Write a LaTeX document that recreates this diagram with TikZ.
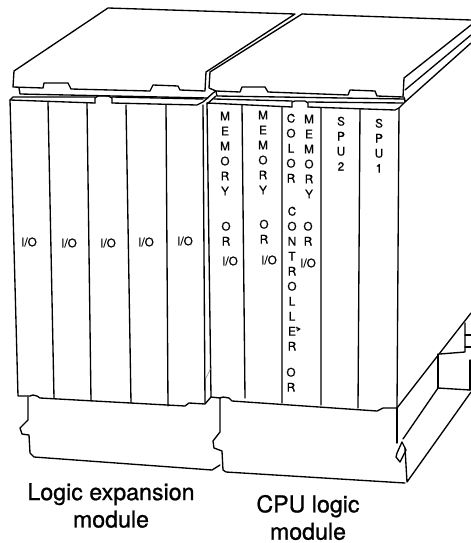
\documentclass[tikz,border=0pt]{standalone}
\usepackage{fontspec}
\setmainfont{TeX Gyre Heros}
\newfontfamily\labelfont[FakeBold=0.6]{TeX Gyre Heros}
\newfontfamily\capfont[FakeBold=0.9]{TeX Gyre Heros}
\tikzset{
  ink/.style={line width=1pt,line join=round,line cap=round,black},
  thinink/.style={line width=0.35pt,gray},
  stack/.style={anchor=north,inner sep=0pt,align=center,font=\labelfont\fontsize{8.8}{11.25}\selectfont},
  io/.style={inner sep=0pt,font=\labelfont\fontsize{8.8}{10}\selectfont},
  caption/.style={inner sep=0pt,align=center,font=\capfont\fontsize{17.4}{20.5}\selectfont}
}
\begin{document}
\begin{tikzpicture}[x=0.75pt,y=-0.75pt]
\useasboundingbox (0,0) rectangle (471,543);
\fill[white] (0,0) rectangle (471,543);
% left lid
\draw[ink] (206,72) -- (295,14) -- (108,8) -- (14,71) -- (13,87) -- (43,88) -- (44,83) -- (68,83) -- (71,89) -- (150,91) -- (153,85) -- (178,86) -- (180,90) -- (205,91) -- cycle;
% left hinge strip
\draw[ink] (19,88) -- (20,94) -- (208,98);
\draw[ink] (10,100) -- (13,97) -- (95,97) (112,97) -- (203,99);
\draw[ink] (95,103) -- (95,98) -- (98,96) -- (108,96) -- (112,98) -- (112,103);
% left panel
\draw[ink] (10,100) -- (95,103) (112,103) -- (197,105) -- (203,102) -- (213,93) -- (216,91);
\draw[ink] (207,104) -- (216,96);
\draw[ink] (10,100) -- (18,396) -- (30,396) -- (33,395) -- (37,396) -- (40,398) -- (185,406) -- (189,403) -- (205,404) -- (211,397) -- (220,398);
\draw[ink] (203,105) -- (205,403);
\draw[ink] (207,103) -- (211,397);
\draw[thinink] (206,378) -- (211,368);
% left dividers
\draw[ink] (48,102) -- (54,398) (87,103) -- (91,401) (126,105) -- (131,403) (166,105) -- (168,406);
% left lower block
\draw[ink] (28,397) -- (28,420) -- (20,428) -- (22,434) -- (29,435) -- (30,453) -- (34,457) -- (212,470) -- (220,465);
\draw[ink] (220,398) -- (220,432) -- (213,441) -- (214,448) -- (222,451) -- (223,470) -- (226,472) -- (405,483);
% right lid
\draw[ink] (302,14) -- (471,20);
\draw[ink] (302,14) -- (210,72) -- (209,88) -- (216,91) -- (240,92) -- (242,87) -- (265,87) -- (268,92) -- (348,95) -- (350,90) -- (375,91) -- (377,96) -- (403,97) -- (404,78) -- (471,25);
% right hinge strip
\draw[ink] (216,91) -- (217,96) -- (405,99);
\draw[ink] (405,90) -- (471,35);
\draw[ink] (404,97) -- (405,102) -- (471,43);
\draw[ink] (214,99) -- (292,101) (308,102) -- (403,103);
\draw[ink] (292,107) -- (292,102) -- (295,101) -- (305,101) -- (308,103) -- (308,107);
% right panel
\draw[ink] (207,103) -- (292,107) (308,107) -- (395,110) -- (399,108) -- (405,102);
\draw[ink] (399,108) -- (397,408);
\draw[ink] (220,398) -- (223,397) -- (229,398) -- (232,401) -- (377,411) -- (383,408) -- (397,408);
% right dividers
\draw[ink] (242,105) -- (245,398) (282,107) -- (282,403) (321,108) -- (321,405) (360,109) -- (358,408);
% right side
\draw[ink] (397,408) -- (471,313);
\draw[ink] (397,408) -- (397,443);
\draw[ink] (403,439) -- (438,388) -- (470,390);
\draw[ink] (438,354) -- (438,388);
\draw[ink] (440,354) -- (465,352) -- (465,323);
\draw[ink] (465,335) -- (471,335) (465,347) -- (471,347);
\draw[ink] (470,360) -- (470,390);
\draw[ink] (405,448) -- (407,482) -- (471,392);
\draw[ink] (397,453) -- (402,442) -- (406,450) -- (400,462) -- (396,457) -- cycle;
\draw[line width=0.6pt] (296,327) -- (300,329) -- (297,331) (296,329) -- (299,329);
% texts
\node[io] (t1) at (29,242) {I/O};
\node[io] (t2) at (69,243) {I/O};
\node[io] (t3) at (108,243) {I/O};
\node[io] (t4) at (146,242) {I/O};
\node[io] (t5) at (185,241) {I/O};
\node[stack] (m1) at (225,111.5) {M\\E\\M\\O\\R\\Y};
\node[stack] (o1) at (226,221.5) {O\\R};
\node[io] (i1) at (230,261) {I/O};
\node[stack] (m2) at (263,110.5) {M\\E\\M\\O\\R\\Y};
\node[stack] (o2) at (264,219.5) {O\\R};
\node[io] (i2) at (269,260) {I/O};
\node[stack] (c1) at (291,113.5) {C\\O\\L\\O\\R};
\node[stack] (c2) at (292,206.5) {C\\O\\N\\T\\R\\O\\L\\L\\E\\R};
\node[stack] (c3) at (291,367.5) {O\\R};
\node[stack] (m3) at (309,114.5) {M\\E\\M\\O\\R\\Y};
\node[stack] (o3) at (308,221.5) {O\\R};
\node[io] (i3) at (308,263) {I/O};
\node[stack] (s2) at (341,116.5) {S\\P\\U\\2};
\node[stack] (s1) at (379,118.5) {S\\P\\U\\1};
\node[caption] (cap1) at (111,505.5) {Logic expansion\\module};
\node[caption] (cap2) at (308,517.5) {CPU logic\\module};
\end{tikzpicture}
\end{document}
